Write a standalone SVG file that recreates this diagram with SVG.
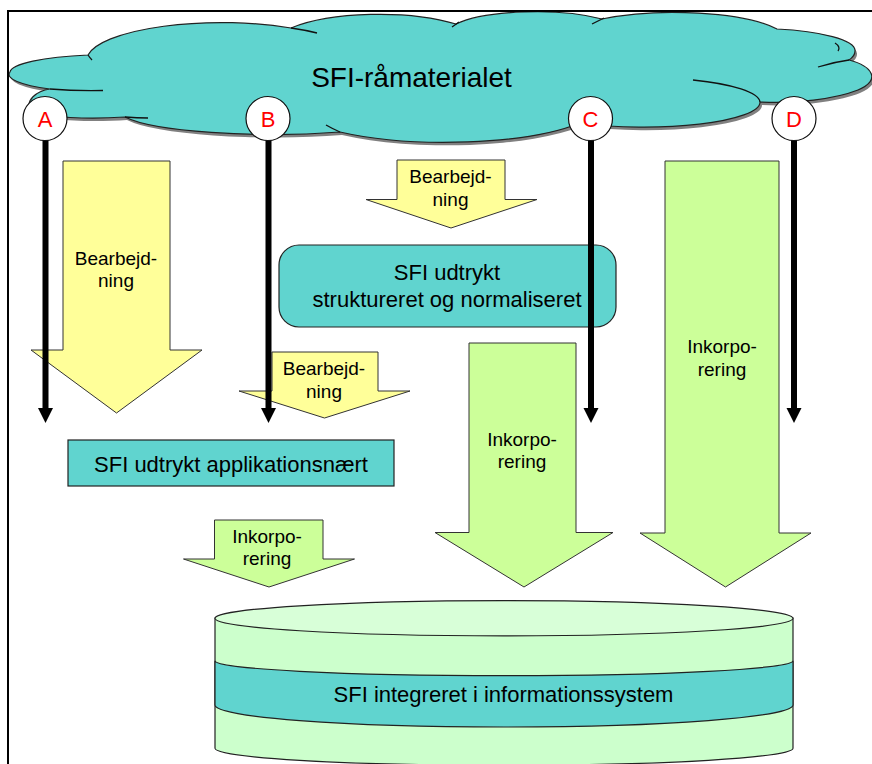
<svg xmlns="http://www.w3.org/2000/svg" width="872" height="764" viewBox="0 0 872 764">
  <style>
    .lbl { font-family: "Liberation Sans", Arial, sans-serif; fill: #000; text-anchor: middle; }
    .small { font-size: 19px; }
    .mid { font-size: 22px; }
    .big { font-size: 28px; }
    .letter { font-family: "Liberation Sans", Arial, sans-serif; font-size: 22px; fill: #ff0000; text-anchor: middle; }
    .teal { fill: #60d4cf; stroke: #222; stroke-width: 1.2; }
    .yellow { fill: #ffff99; stroke: #333; stroke-width: 1; }
    .green { fill: #ccff99; stroke: #333; stroke-width: 1; }
    .cyl { fill: #ccffcc; stroke: #222; stroke-width: 1.2; }
    .stub { fill: none; stroke: #111; stroke-width: 1.3; }
    .marker-circle { fill: #fff; stroke: #111; stroke-width: 1.2; }
    .flow { stroke: #000; stroke-width: 6; fill: none; }
    .head { fill: #000; }
  </style>
  <defs>
    <path id="cloudShape" d="M10,72 A100,18 0 0,1 88,55 A135,38 0 0,1 291,28 A110,34 0 0,1 456,24 A92,24 0 0,1 602,19 A115,30 0 0,1 777,29 C820,31 856,40 855,51 C855,55 852,58 849,60 C872,66 882,80 858,90 C835,99 795,104 760,102 A116,25 0 0,1 580,123 A160,42 0 0,1 340,132 A155,25 0 0,1 125,117 C95,119 40,119 31,109 C25,101 36,91 50,89 A100,18 0 0,1 10,72 Z"/>
  </defs>

  <!-- source material cloud -->
  <g id="cloud">
    <use href="#cloudShape" transform="translate(2,3)" fill="#808080"/>
    <use href="#cloudShape" class="teal"/>
    <path class="stub" d="M50,89 A100,18 0 0,0 103,90.5"/>
    <path class="stub" d="M88,55 Q90,58 92,60"/>
    <path class="stub" d="M125,117 Q137,118 148,118"/>
    <path class="stub" d="M291,28 Q305,30 317,33"/>
    <path class="stub" d="M452,27 Q455,25 459,22"/>
    <path class="stub" d="M592,24 Q598,21 604,18"/>
    <path class="stub" d="M835,43 Q841,47 838,51"/>
    <path class="stub" d="M818,67 Q834,62 849,60"/>
    <path class="stub" d="M693,80 A116,25 0 0,1 760,102"/>
    <path class="stub" d="M326,125 Q333,129 340,132"/>
    <text class="lbl big" x="411.5" y="87">SFI-råmaterialet</text>
  </g>

  <!-- frame -->
  <path d="M8,764 V11 H872" fill="none" stroke="#000" stroke-width="2"/>

  <!-- processing arrows (yellow) -->
  <g id="proc-a">
    <path class="yellow" d="M63,161 H170 V350 H202 L116.5,413 L31,350 H63 Z"/>
    <text class="lbl small" x="116" y="265">Bearbejd-</text>
    <text class="lbl small" x="116" y="287">ning</text>
  </g>
  <g id="proc-top">
    <path class="yellow" d="M397,160 H505 V199.5 H537 L451,228 L366,199.5 H397 Z"/>
    <text class="lbl small" x="450.5" y="183">Bearbejd-</text>
    <text class="lbl small" x="450.5" y="206">ning</text>
  </g>
  <g id="proc-b">
    <path class="yellow" d="M272,352 H378 V391 H410 L324.5,418 L239,391 H272 Z"/>
    <text class="lbl small" x="324" y="375">Bearbejd-</text>
    <text class="lbl small" x="324" y="398">ning</text>
  </g>

  <!-- structured and normalised form -->
  <g id="node-structured">
    <rect class="teal" x="279" y="245" width="337" height="82" rx="20" ry="20"/>
    <text class="lbl mid" x="447" y="280">SFI udtrykt</text>
    <text class="lbl mid" x="447" y="307">struktureret og normaliseret</text>
  </g>

  <!-- application-near form -->
  <g id="node-application">
    <rect class="teal" x="68" y="440" width="326" height="46"/>
    <text class="lbl mid" x="231" y="472">SFI udtrykt applikationsnært</text>
  </g>

  <!-- incorporation arrows (green) -->
  <g id="incorp-c">
    <path class="green" d="M469,343 H576 V532.5 H613 L524,587 L435,532.5 H469 Z"/>
    <text class="lbl small" x="522" y="446">Inkorpo-</text>
    <text class="lbl small" x="522" y="468">rering</text>
  </g>
  <g id="incorp-d">
    <path class="green" d="M665,161 H779 V533 H811 L725.5,587 L640,533 H665 Z"/>
    <text class="lbl small" x="722" y="353">Inkorpo-</text>
    <text class="lbl small" x="722" y="376">rering</text>
  </g>
  <g id="incorp-app">
    <path class="green" d="M214.5,520 H323 V559 H354.5 L269,587 L183.5,559 H214.5 Z"/>
    <text class="lbl small" x="267" y="543">Inkorpo-</text>
    <text class="lbl small" x="267" y="565">rering</text>
  </g>

  <!-- information system cylinder -->
  <g id="node-system">
    <path class="cyl" d="M215,618 V748.3 A289,17 0 0,0 793,748.3 V618 Z"/>
    <path d="M215,660.7 A289,15 0 0,0 793,660.7 V705 A289,22 0 0,1 215,705 Z" fill="#60d4cf" stroke="#222" stroke-width="1.2"/>
    <ellipse cx="504" cy="618.3" rx="289" ry="17.6" fill="#d8ffd8" stroke="#222" stroke-width="1.2"/>
    <text class="lbl mid" x="503.5" y="702">SFI integreret i informationssystem</text>
  </g>

  <!-- routes A-D from the source material -->
  <g id="connectors">
    <line class="flow" x1="45.5" y1="140" x2="45.5" y2="409"/>
    <path class="head" d="M38,408 H53 L45.5,423 Z"/>
    <line class="flow" x1="268.5" y1="140" x2="268.5" y2="409"/>
    <path class="head" d="M261,408 H276 L268.5,423 Z"/>
    <line class="flow" x1="591" y1="140" x2="591" y2="409"/>
    <path class="head" d="M583.5,408 H598.5 L591,423 Z"/>
    <line class="flow" x1="794" y1="140" x2="794" y2="409"/>
    <path class="head" d="M786.5,408 H801.5 L794,423 Z"/>
  </g>

  <!-- route markers -->
  <g id="marker-a">
    <circle class="marker-circle" cx="45" cy="118.5" r="22"/>
    <text class="letter" x="45" y="126.5">A</text>
  </g>
  <g id="marker-b">
    <circle class="marker-circle" cx="268" cy="118.5" r="22"/>
    <text class="letter" x="268" y="126.5">B</text>
  </g>
  <g id="marker-c">
    <circle class="marker-circle" cx="590.5" cy="118.5" r="22"/>
    <text class="letter" x="590.5" y="126.5">C</text>
  </g>
  <g id="marker-d">
    <circle class="marker-circle" cx="794" cy="118.5" r="22"/>
    <text class="letter" x="794" y="126.5">D</text>
  </g>
</svg>
